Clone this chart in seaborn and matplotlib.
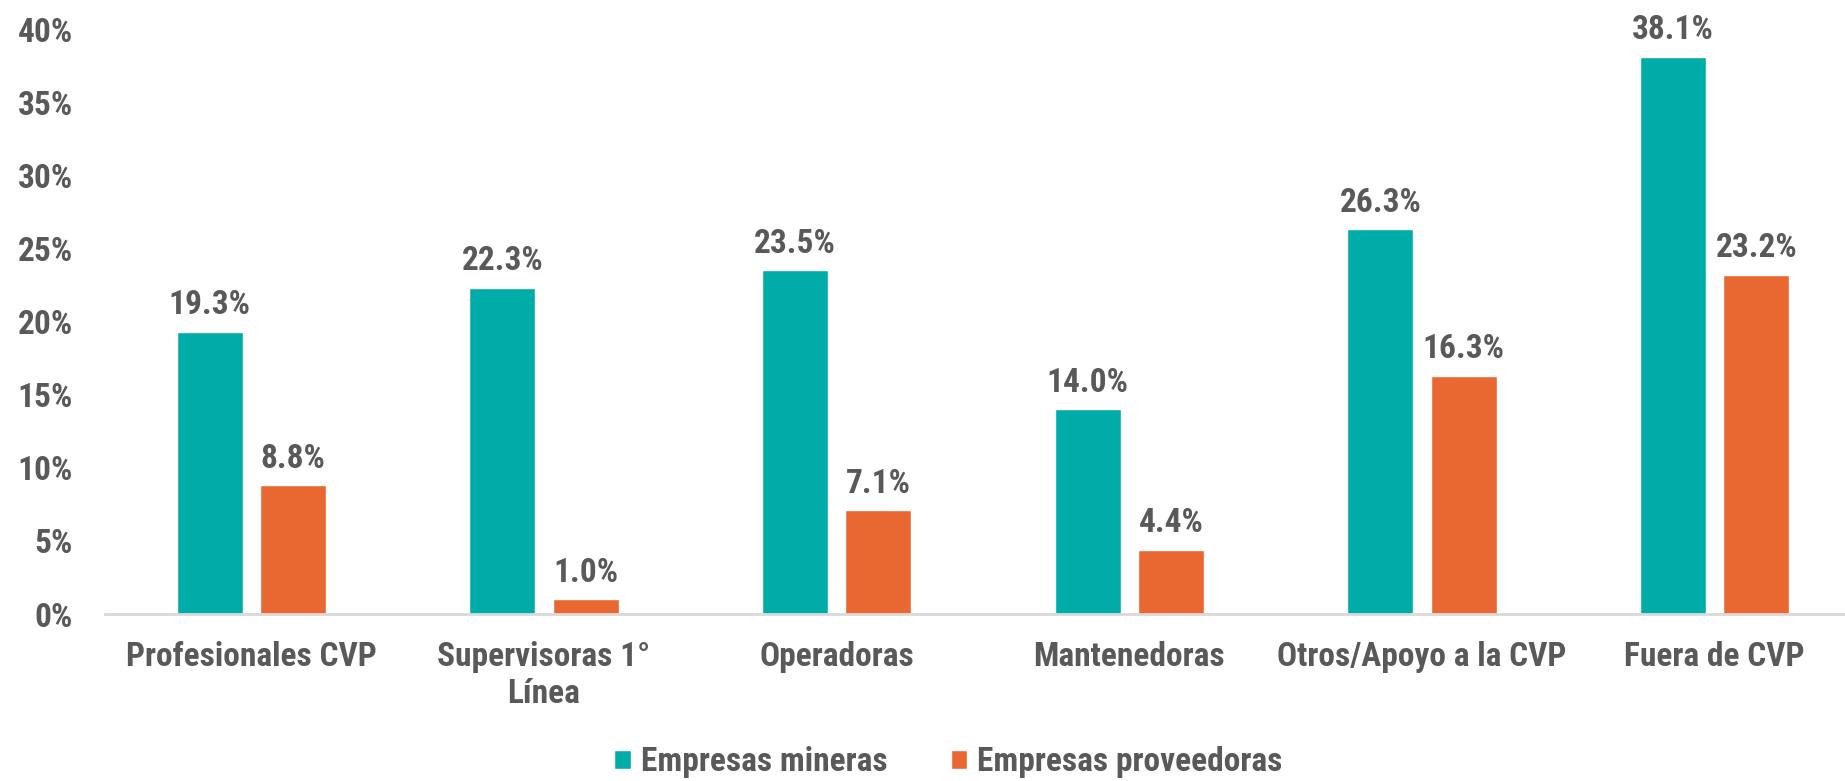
import os
import pandas as pd
import matplotlib
matplotlib.use("Agg")
import matplotlib.pyplot as plt
from matplotlib import font_manager
from matplotlib.patches import Patch
from matplotlib.ticker import PercentFormatter
import seaborn as sns

# ============================================================
# 数据
# ============================================================

categories = [
    "Profesionales CVP",
    "Supervisoras 1°\nLínea",
    "Operadoras",
    "Mantenedoras",
    "Otros/Apoyo a la CVP",
    "Fuera de CVP",
]
mineras = [19.3, 22.3, 23.5, 14.0, 26.3, 38.1]
proveedoras = [8.8, 1.0, 7.1, 4.4, 16.3, 23.2]
series_names = ["Empresas mineras", "Empresas proveedoras"]
y_ticks = [0, 5, 10, 15, 20, 25, 30, 35, 40]

TEAL = "#00ACA8"
ORANGE = "#E96831"
TEXT = "#595959"

# ============================================================
# 字体：优先找窄体粗体
# ============================================================

sns.set_theme(style="white")


def pick_condensed_font():
    files = {}
    for f in font_manager.fontManager.ttflist:
        files[os.path.splitext(os.path.basename(f.fname))[0]] = f.fname
    prefs = [
        "RobotoCondensed-ExtraBold",
        "RobotoCondensed-Bold",
        "LiberationSansNarrow-Bold",
        "NotoSans-CondensedBold",
        "OpenSans-CondensedBold",
        "DejaVuSansCondensed-Bold",
    ]
    for p in prefs:
        if p in files:
            return p, files[p]
    for name, path in sorted(files.items()):
        low = name.lower()
        if ("condensed" in low or "narrow" in low) and "bold" in low and "italic" not in low:
            return name, path
    return None, None


font_name, font_path = pick_condensed_font()
if font_path:
    FS = 22 if "DejaVu" in font_name else 24
    fp = font_manager.FontProperties(fname=font_path, size=FS)
else:
    FS = 20
    fp = font_manager.FontProperties(family="DejaVu Sans", weight="bold", size=FS)

df = pd.DataFrame({
    "categoria": categories * 2,
    "serie": [series_names[0]] * len(categories) + [series_names[1]] * len(categories),
    "valor": mineras + proveedoras,
})

fig = plt.figure(figsize=(18.45, 7.81), dpi=100)
ax = fig.add_axes([0.0569, 0.2138, 0.9518, 0.749])

sns.barplot(
    data=df, x="categoria", y="valor", hue="serie",
    order=categories, hue_order=series_names,
    palette=[TEAL, ORANGE], width=0.57, gap=0.21,
    saturation=1, legend=False, ax=ax,
)

for container in ax.containers:
    ax.bar_label(container, fmt="%.1f%%", padding=7.5,
                 fontproperties=fp, color=TEXT)

ax.set_xlim(-0.5, len(categories) - 0.5)
ax.set_ylim(0, 40)
ax.set_yticks(y_ticks)
ax.yaxis.set_major_formatter(PercentFormatter(decimals=0))
ax.set_xlabel("")
ax.set_ylabel("")

ax.tick_params(axis="y", length=0, pad=23, labelcolor=TEXT)
ax.tick_params(axis="x", length=0, pad=19.5, labelcolor=TEXT)
for lbl in ax.get_xticklabels() + ax.get_yticklabels():
    lbl.set_fontproperties(fp)

sns.despine(ax=ax, left=True, top=True, right=True)
ax.spines["bottom"].set_color("#D9D9D9")
ax.spines["bottom"].set_linewidth(2)
ax.grid(False)

handles = [Patch(facecolor=TEAL), Patch(facecolor=ORANGE)]
fig.legend(
    handles, series_names, loc="center", bbox_to_anchor=(0.514, 0.024),
    ncol=2, frameon=False, labelcolor=TEXT, prop=fp,
    handlelength=0.5, handleheight=0.5, handletextpad=0.3, columnspacing=1.9,
    borderpad=0.2,
)

fig.savefig("out.png", dpi=100)
